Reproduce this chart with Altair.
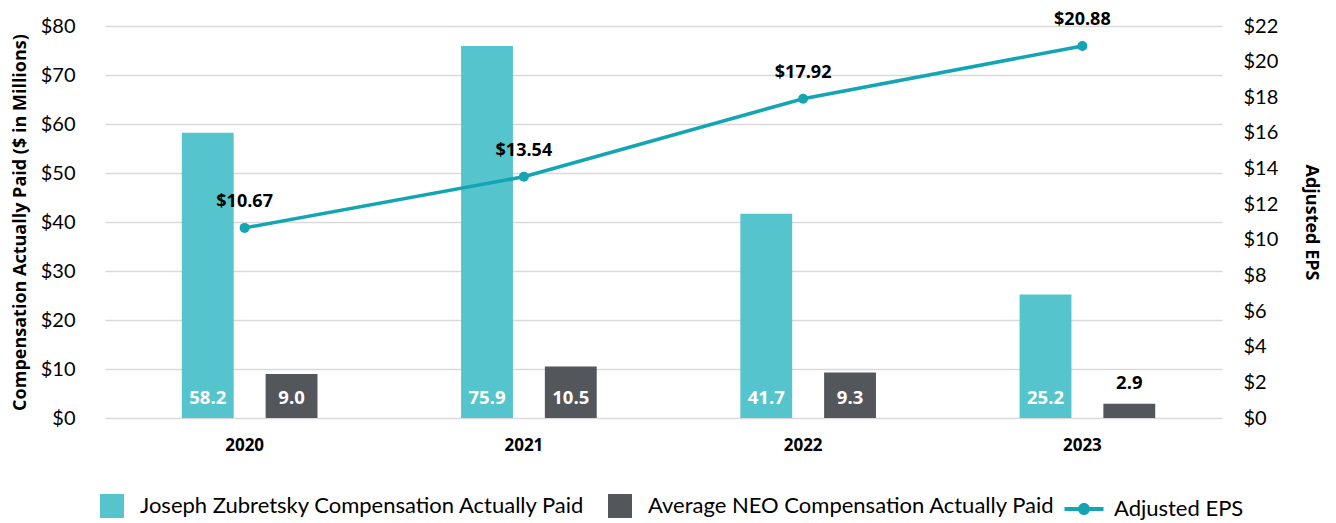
import altair as alt
import pandas as pd

years = ["2020", "2021", "2022", "2023"]
ceo_cap = [58.2, 75.9, 41.7, 25.2]
neo_cap = [9.0, 10.5, 9.3, 2.9]
adj_eps = [10.67, 13.54, 17.92, 20.88]

ceo_name = "Joseph Zubretsky Compensation Actually Paid"
neo_name = "Average NEO Compensation Actually Paid"
eps_name = "Adjusted EPS"

TEAL = "#56C4CC"
DARK = "#53565A"
LINE = "#13A5B1"
FONT = "Lato"
LABEL_FONT = "Open Sans"

bars_df = pd.DataFrame({
    "year": years * 2,
    "series": [ceo_name] * 4 + [neo_name] * 4,
    "value": ceo_cap + neo_cap,
})
bars_df["label"] = bars_df["value"].map(lambda v: f"{v:.1f}")
eps_df = pd.DataFrame({"year": years, "series": [eps_name] * 4, "eps": adj_eps})
eps_df["label"] = eps_df["eps"].map(lambda v: f"${v:.2f}")

x_enc = alt.X(
    "year:N",
    scale=alt.Scale(paddingInner=0, paddingOuter=0),
    axis=alt.Axis(title=None, labelFontWeight="bold", labelFontSize=17, labelColor="#000",
                  labelFont=LABEL_FONT, domain=False, ticks=False, labelPadding=19, labelAngle=0),
)
xoff = alt.XOffset("series:N", sort=[ceo_name, neo_name],
                   scale=alt.Scale(paddingInner=0.381, paddingOuter=0.857, align=0.535))
y_left = alt.Y(
    "value:Q",
    scale=alt.Scale(domain=[0, 80], nice=False),
    axis=alt.Axis(title="Compensation Actually Paid ($ in Millions)", values=list(range(0, 81, 10)),
                  labelExpr="'$' + datum.value", labelFontSize=20, labelColor="#000", labelFont=FONT,
                  labelPadding=30, titleFontSize=18, titleFontWeight="bold", titleColor="#000",
                  titleFont=LABEL_FONT, titlePadding=11, domain=False, ticks=False,
                  grid=True, gridColor="#D9D9D9", gridWidth=1.5),
)

bars = alt.Chart(bars_df).mark_bar().encode(
    x=x_enc, xOffset=xoff, y=y_left,
    color=alt.Color("series:N", sort=[ceo_name, neo_name],
                    scale=alt.Scale(domain=[ceo_name, neo_name], range=[TEAL, DARK]),
                    legend=alt.Legend(title=None, orient="none", direction="horizontal",
                                      legendX=-5, legendY=468,
                                      symbolType="square", symbolSize=576,
                                      symbolStrokeWidth=0, labelFontSize=22, labelFont=FONT,
                                      labelColor="#000", labelOffset=16, columnPadding=22,
                                      labelLimit=600)),
)

inside = alt.Chart(bars_df).transform_filter("datum.value >= 5").mark_text(
    font=LABEL_FONT, fontSize=18.5, fontWeight="bold", color="white", dy=-20, baseline="middle"
).encode(x=x_enc, xOffset=xoff, y=alt.datum(0), text="label:N")

outside = alt.Chart(bars_df).transform_filter("datum.value < 5").mark_text(
    font=LABEL_FONT, fontSize=18.5, fontWeight="bold", color="#000", dy=-21, baseline="middle"
).encode(x=x_enc, xOffset=xoff, y="value:Q", text="label:N")

left = alt.layer(bars, inside, outside)

y_right = alt.Y(
    "eps:Q",
    scale=alt.Scale(domain=[0, 22], nice=False),
    axis=alt.Axis(title="Adjusted EPS", orient="right", values=list(range(0, 23, 2)),
                  labelExpr="'$' + datum.value", labelFontSize=20, labelColor="#000", labelFont=FONT,
                  labelPadding=21, titleFontSize=18, titleFontWeight="bold", titleColor="#000",
                  titleFont=LABEL_FONT, titleAngle=90, titlePadding=24, domain=False, ticks=False,
                  grid=False),
)

line = alt.Chart(eps_df).mark_line(strokeWidth=3.5).encode(
    x=x_enc, y=y_right,
    stroke=alt.Stroke("series:N", scale=alt.Scale(domain=[eps_name], range=[LINE]),
                      legend=alt.Legend(title=None, orient="none", direction="horizontal",
                                        legendX=968, legendY=472,
                                        symbolType="M-1.95,-0.2H1.95V0.2H-1.95Z M-0.6,0A0.6,0.6 0 1,1 0.6,0A0.6,0.6 0 1,1 -0.6,0Z",
                                        symbolSize=400, symbolFillColor=LINE, symbolStrokeWidth=0,
                                        labelFontSize=22, labelFont=FONT, labelColor="#000",
                                        labelOffset=19)),
)
points = alt.Chart(eps_df).mark_point(filled=True, size=100, opacity=1, color=LINE).encode(
    x=x_enc, y=y_right)
eps_labels = alt.Chart(eps_df).mark_text(
    font=LABEL_FONT, fontSize=18, fontWeight="bold", color="#000", dy=-26, baseline="middle"
).encode(x=x_enc, y=y_right, text="label:N")

right = alt.layer(line, points, eps_labels)

chart = alt.layer(left, right).resolve_scale(y="independent").properties(
    width=1117, height=392,
    autosize=alt.AutoSizeParams(type="none"),
    padding={"left": 97, "top": 18, "right": 106, "bottom": 102},
).configure(font=FONT).configure_view(stroke=None)

chart.save("out.html", embed_options={"renderer": "svg", "actions": False})
